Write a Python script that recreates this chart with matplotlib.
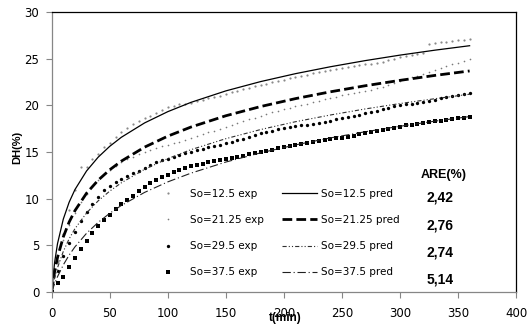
import matplotlib
matplotlib.use('Agg')
import matplotlib.pyplot as plt

plt.rcParams['font.family'] = ['DejaVu Sans']
plt.rcParams['lines.scale_dashes'] = False

# experimental points, every 5 min
t_exp = [0, 5, 10, 15, 20, 25, 30, 35, 40, 45,
         50, 55, 60, 65, 70, 75, 80, 85, 90, 95,
         100, 105, 110, 115, 120, 125, 130, 135, 140, 145,
         150, 155, 160, 165, 170, 175, 180, 185, 190, 195,
         200, 205, 210, 215, 220, 225, 230, 235, 240, 245,
         250, 255, 260, 265, 270, 275, 280, 285, 290, 295,
         300, 305, 310, 315, 320, 325, 330, 335, 340, 345,
         350, 355, 360]

exp_125 = [0, 3.3, 6.2, 8.8, 10.9, 13.4, 13.4, 14.2, 14.8, 15.5,
           16.0, 16.6, 17.1, 17.6, 18.0, 18.3, 18.6, 18.9, 19.2, 19.5,
           19.8, 19.95, 20.1, 20.2, 20.3, 20.45, 20.6, 20.75, 20.9, 21.05,
           21.2, 21.4, 21.6, 21.75, 21.9, 22.05, 22.2, 22.35, 22.5, 22.6,
           22.75, 22.9, 23.0, 23.15, 23.3, 23.45, 23.6, 23.7, 23.8, 23.9,
           24.0, 24.1, 24.2, 24.3, 24.4, 24.5, 24.6, 24.7, 24.85, 25.0,
           25.15, 25.3, 25.4, 25.5, 25.6, 26.6, 26.7, 26.8, 26.85, 26.9,
           27.0, 27.05, 27.1]

exp_2125 = [0, 3.2, 5.5, 7.2, 8.5, 9.6, 10.5, 11.3, 12.0, 12.6,
            13.1, 13.5, 13.9, 14.2, 14.5, 14.8, 15.0, 15.2, 15.4, 15.6,
            15.8, 15.95, 16.1, 16.3, 16.5, 16.7, 16.9, 17.1, 17.3, 17.5,
            17.7, 17.9, 18.1, 18.3, 18.5, 18.7, 18.9, 19.1, 19.3, 19.45,
            19.6, 19.75, 19.9, 20.05, 20.2, 20.35, 20.5, 20.65, 20.8, 20.95,
            21.1, 21.2, 21.3, 21.4, 21.55, 21.7, 21.85, 22.0, 22.2, 22.4,
            22.6, 22.8, 23.0, 23.2, 23.4, 23.6, 23.8, 24.0, 24.2, 24.4,
            24.6, 24.8, 25.0]

exp_295 = [0, 2.2, 3.8, 5.2, 6.4, 7.6, 8.6, 9.4, 10.2, 10.9,
           11.4, 11.8, 12.1, 12.4, 12.7, 13.0, 13.3, 13.6, 13.9, 14.1,
           14.3, 14.5, 14.7, 14.85, 15.0, 15.2, 15.35, 15.5, 15.65, 15.8,
           15.95, 16.1, 16.25, 16.4, 16.6, 16.8, 17.0, 17.15, 17.3, 17.45,
           17.55, 17.65, 17.75, 17.85, 17.95, 18.05, 18.15, 18.25, 18.35, 18.5,
           18.65, 18.8, 18.9, 19.0, 19.15, 19.3, 19.45, 19.6, 19.75, 19.9,
           20.0, 20.1, 20.2, 20.3, 20.4, 20.5, 20.6, 20.75, 20.9, 21.0,
           21.1, 21.2, 21.3]

exp_375 = [0, 0.95, 1.6, 2.6, 3.65, 4.6, 5.45, 6.25, 7.0, 7.65,
           8.25, 8.85, 9.4, 9.85, 10.3, 10.8, 11.25, 11.65, 12.0, 12.3,
           12.55, 12.8, 13.05, 13.25, 13.45, 13.6, 13.75, 13.9, 14.0, 14.15,
           14.25, 14.35, 14.45, 14.6, 14.75, 14.9, 15.0, 15.15, 15.25, 15.4,
           15.5, 15.6, 15.7, 15.85, 15.95, 16.05, 16.15, 16.25, 16.35, 16.45,
           16.55, 16.65, 16.75, 16.9, 17.0, 17.1, 17.2, 17.35, 17.45, 17.6,
           17.7, 17.85, 17.95, 18.05, 18.1, 18.2, 18.3, 18.35, 18.45, 18.55,
           18.6, 18.7, 18.8]

# predicted curves
t_pred = [0, 2.5, 5, 10, 15, 20, 30, 40, 50, 60, 80, 100, 120, 150, 180, 210, 240, 270, 300, 330, 360]
pred_125 = [0, 3.15, 5.16, 7.80, 9.60, 10.96, 12.96, 14.44, 15.61, 16.58, 18.12,
            19.33, 20.33, 21.56, 22.56, 23.41, 24.15, 24.81, 25.40, 25.93, 26.41]
pred_2125 = [0, 2.14, 3.68, 5.89, 7.47, 8.70, 10.57, 11.97, 13.09, 14.02, 15.52,
             16.70, 17.68, 18.89, 19.88, 20.73, 21.46, 22.11, 22.69, 23.22, 23.70]
pred_295 = [0, 1.43, 2.57, 4.33, 5.67, 6.76, 8.45, 9.75, 10.80, 11.69, 13.14,
            14.29, 15.25, 16.43, 17.41, 18.25, 18.97, 19.62, 20.20, 20.72, 21.20]
pred_375 = [0, 0.86, 1.61, 2.88, 3.93, 4.81, 6.27, 7.44, 8.42, 9.26, 10.66,
            11.79, 12.73, 13.92, 14.91, 15.76, 16.51, 17.17, 17.76, 18.31, 18.80]

labels_exp = ['So=12.5 exp', 'So=21.25 exp', 'So=29.5 exp', 'So=37.5 exp']
labels_pred = ['So=12.5 pred', 'So=21.25 pred', 'So=29.5 pred', 'So=37.5 pred']
are_values = ['2,42', '2,76', '2,74', '5,14']

fig = plt.figure(figsize=(5.32, 3.25), dpi=100)
ax = fig.add_axes([0.0972, 0.1025, 0.8728, 0.8597])

# exp points
h1, = ax.plot(t_exp, exp_125, ls='none', marker='o', ms=1.6, mfc='#8a8a8a', mec='#8a8a8a', mew=0)
h2, = ax.plot(t_exp, exp_2125, ls='none', marker='o', ms=1.2, mfc='#7a7a7a', mec='#7a7a7a', mew=0)
h3, = ax.plot(t_exp, exp_295, ls='none', marker='o', ms=2.4, mfc='black', mec='black', mew=0)
h4, = ax.plot(t_exp, exp_375, ls='none', marker='s', ms=2.8, mfc='black', mec='black', mew=0)

# pred lines
p1, = ax.plot(t_pred, pred_125, color='black', lw=0.9)
p2, = ax.plot(t_pred, pred_2125, color='black', lw=2.0, dashes=(7, 3))
p3, = ax.plot(t_pred, pred_295, color='#303030', lw=0.8, dashes=(3, 1.5, 0.8, 1.5, 0.8, 1.5))
p4, = ax.plot(t_pred, pred_375, color='#202020', lw=0.8, dashes=(6, 2, 0.8, 2))

ax.set_xlim(0, 400)
ax.set_ylim(0, 30)
ax.set_xticks([0, 50, 100, 150, 200, 250, 300, 350, 400])
ax.set_yticks([0, 5, 10, 15, 20, 25, 30])
ax.tick_params(direction='out', length=4, width=0.8, color='#868686', labelsize=8.5, pad=5)
ax.tick_params(axis='x', pad=7)
for s in ['left', 'bottom']:
    ax.spines[s].set_color('#868686')
for s in ['top', 'right']:
    ax.spines[s].set_color('black')
for s in ax.spines.values():
    s.set_linewidth(0.9)

fig.text(17 / 532, 1 - 147 / 325, 'DH(%)', rotation=90, ha='center', va='center',
         fontsize=8, fontweight='bold', family='Liberation Sans')
fig.text(285 / 532, 1 - 318 / 325, 't(min)', ha='center', va='center',
         fontsize=8.5, fontweight='bold', family='Liberation Sans')

leg = ax.legend([h1, h2, h3, h4, p1, p2, p3, p4], labels_exp + labels_pred,
                ncol=2, frameon=False, fontsize=7.5, handlelength=3.3,
                handletextpad=0.4, columnspacing=1.8, labelspacing=1.55,
                markerscale=1.0, borderpad=0, borderaxespad=0,
                loc='upper left', bbox_to_anchor=(151 / 532, 1 - 189 / 325),
                bbox_transform=fig.transFigure)

fig.text(444 / 532, 1 - 175 / 325, 'ARE(%)', ha='center', va='center',
         fontsize=9, fontweight='bold', family='Liberation Sans')
for i, v in enumerate(are_values):
    fig.text(440 / 532, 1 - (198 + 27.3 * i) / 325, v, ha='center', va='center',
             fontsize=10, fontweight='bold', family='Liberation Sans')

fig.savefig('out.png', dpi=100)
